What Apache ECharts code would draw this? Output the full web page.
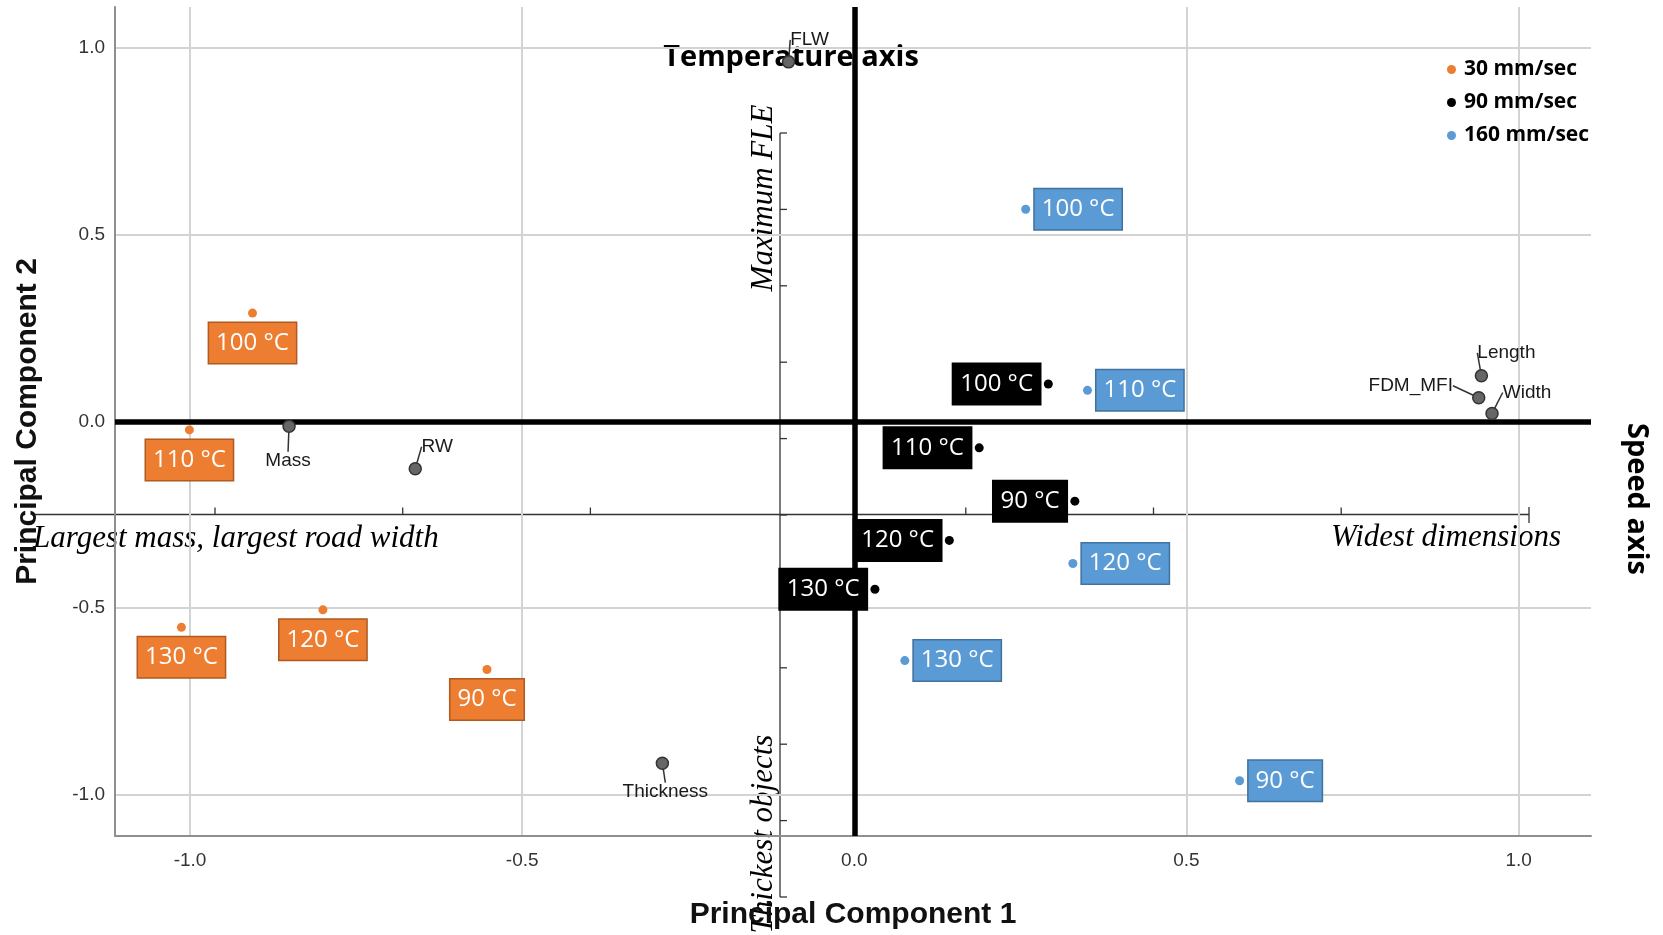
<!DOCTYPE html>
<html>
<head>
<meta charset="utf-8">
<script src="https://cdn.jsdelivr.net/npm/echarts@6/dist/echarts.min.js"></script>
<style>
  html, body { margin: 0; padding: 0; background: #ffffff; }
  #chart { width: 1663px; height: 935px; }
</style>
</head>
<body>
<div id="chart"></div>
<script>
// ---- data -------------------------------------------------------------
const temperatureLabels = ['90 °C', '100 °C', '110 °C', '120 °C', '130 °C'];
const speedNames = ['30 mm/sec', '90 mm/sec', '160 mm/sec'];

// scores on PC1 / PC2 for each printing speed, ordered like temperatureLabels
const pc1Speed30 = [-0.553, -0.906, -1.001, -0.800, -1.013];
const pc2Speed30 = [-0.665, 0.290, -0.023, -0.505, -0.552];
const pc1Speed90 = [0.332, 0.292, 0.188, 0.143, 0.031];
const pc2Speed90 = [-0.214, 0.100, -0.071, -0.319, -0.450];
const pc1Speed160 = [0.580, 0.258, 0.351, 0.329, 0.076];
const pc2Speed160 = [-0.963, 0.568, 0.083, -0.381, -0.641];

// variable loadings
const loadingNames = ['FLW', 'Mass', 'RW', 'Thickness', 'Length', 'FDM_MFI', 'Width'];
const loadingPC1 = [-0.099, -0.851, -0.661, -0.289, 0.944, 0.940, 0.960];
const loadingPC2 = [0.963, -0.013, -0.127, -0.916, 0.122, 0.063, 0.021];

const axisTickValues = [-1.0, -0.5, 0.0, 0.5, 1.0];

// ---- layout / style ---------------------------------------------------
const loadingLabelOffsets = [[21, -22], [-1, 35], [22, -22], [3, 29], [25, -23], [-68, -12], [35, -21]];
const calibriLike = '"Open Sans", Lato, sans-serif';
const arialLike = '"Liberation Sans", Arial, sans-serif';
const serifItalic = '"Liberation Serif", "DejaVu Serif", serif';

const speedStyles = [
  { color: '#ED7D31', border: '#AE5A21', position: 'bottom', distance: 5.5 },
  { color: '#000000', border: '#000000', position: 'left', distance: 3.8 },
  { color: '#5B9BD5', border: '#41719C', position: 'right', distance: 4.5 }
];

function speedSeries(name, xs, ys, st) {
  return {
    type: 'scatter',
    name: name,
    z: 10,
    symbol: 'circle',
    symbolSize: 9,
    itemStyle: { color: st.color, opacity: 1 },
    data: xs.map((x, i) => ({ value: [x, ys[i]], name: temperatureLabels[i] })),
    label: {
      show: true,
      formatter: '{b}',
      position: st.position,
      distance: st.distance,
      color: '#ffffff',
      fontFamily: calibriLike,
      fontSize: 24,
      lineHeight: 28,
      backgroundColor: st.color,
      borderColor: st.border,
      borderWidth: 1.5,
      padding: [6, 7, 6, 7]
    },
    emphasis: { disabled: true }
  };
}

function valueAxis(extra) {
  return Object.assign({
    type: 'value',
    axisLine: { show: true, onZero: false, lineStyle: { color: '#8f8f8f', width: 2 } },
    axisTick: { show: false, customValues: axisTickValues },
    axisLabel: {
      customValues: axisTickValues,
      formatter: v => v.toFixed(1),
      color: '#333333',
      fontFamily: arialLike,
      fontSize: 19,
      margin: 15
    },
    splitLine: { show: true, lineStyle: { color: '#d3d3d3', width: 2 } },
    nameLocation: 'middle',
    nameTextStyle: { fontFamily: arialLike, fontWeight: 'bold', fontSize: 30, color: '#111111' }
  }, extra);
}

// ---- annotation guides drawn over the plot -----------------------------
const guideStroke = { stroke: '#333333', lineWidth: 1.3 };
const guides = [];
guides.push({ type: 'line', shape: { x1: 780, y1: 133, x2: 780, y2: 897 }, style: guideStroke });
for (let k = 0; k <= 10; k++) {
  const y = 133 + k * 76.4;
  guides.push({ type: 'line', shape: { x1: 780, y1: y, x2: 787, y2: y }, style: guideStroke });
}
guides.push({ type: 'line', shape: { x1: 35, y1: 514.5, x2: 1529, y2: 514.5 }, style: guideStroke });
for (let k = 0; k < 7; k++) {
  const x = 215 + k * 187.7;
  if (Math.abs(x - 780) < 5) continue;
  guides.push({ type: 'line', shape: { x1: x, y1: 507.5, x2: x, y2: 514.5 }, style: guideStroke });
}
guides.push({ type: 'line', shape: { x1: 1529, y1: 507, x2: 1529, y2: 523 }, style: guideStroke });

function textEl(x, y, text, font, align, rotation) {
  return {
    type: 'text', x: x, y: y, rotation: rotation || 0,
    style: {
      text: text, font: font, fill: '#000000',
      align: align, verticalAlign: 'middle',
      textAlign: align, textVerticalAlign: 'middle'
    }
  };
}
guides.push(textEl(791, 58, 'Temperature axis', 'bold 29px ' + calibriLike, 'center'));
guides.push(textEl(1636, 499, 'Speed axis', 'bold 29px ' + calibriLike, 'center', -Math.PI / 2));
guides.push(textEl(33, 539, 'Largest mass, largest road width', 'italic 31px ' + serifItalic, 'left'));
guides.push(textEl(1561, 538, 'Widest dimensions', 'italic 31px ' + serifItalic, 'right'));
guides.push(textEl(764, 198, 'Maximum FLE', 'italic 31px ' + serifItalic, 'center', Math.PI / 2));
guides.push(textEl(764, 834, 'Thickest objects', 'italic 31px ' + serifItalic, 'center', Math.PI / 2));

// ---- chart --------------------------------------------------------------
const chart = echarts.init(document.getElementById('chart'), null, { renderer: 'canvas' });
chart.setOption({
  animation: false,
  backgroundColor: '#ffffff',
  grid: { left: 115, right: 72, top: 7, bottom: 98, containLabel: false },
  xAxis: valueAxis({ min: -1.113, max: 1.109, name: 'Principal Component 1', nameGap: 64 }),
  yAxis: valueAxis({ min: -1.111, max: 1.110, name: 'Principal Component 2', nameGap: 72,
    axisLabel: {
      customValues: axisTickValues, formatter: v => v.toFixed(1),
      color: '#333333', fontFamily: arialLike, fontSize: 19, margin: 10
    } }),
  legend: {
    data: speedNames,
    orient: 'vertical',
    left: 1442,
    top: 52,
    icon: 'circle',
    itemWidth: 9,
    itemHeight: 9,
    itemGap: 8,
    textStyle: { fontFamily: calibriLike, fontWeight: 'bold', fontSize: 21, lineHeight: 25, color: '#000000', padding: [0, 0, 0, 3] }
  },
  graphic: { elements: [{ type: 'group', z: 20, children: guides }] },
  series: [
    {
      // origin lines of the component plane
      type: 'scatter',
      name: 'origin',
      z: 3,
      data: [],
      markLine: {
        silent: true,
        symbol: 'none',
        label: { show: false },
        lineStyle: { type: 'solid', color: '#000000', width: 5.5, opacity: 1 },
        data: [{ xAxis: 0 }, { yAxis: 0 }]
      }
    },
    speedSeries(speedNames[0], pc1Speed30, pc2Speed30, speedStyles[0]),
    speedSeries(speedNames[1], pc1Speed90, pc2Speed90, speedStyles[1]),
    speedSeries(speedNames[2], pc1Speed160, pc2Speed160, speedStyles[2]),
    {
      type: 'scatter',
      name: 'Loadings',
      z: 10,
      symbol: 'circle',
      symbolSize: 12,
      itemStyle: { color: '#666666', borderColor: '#333333', borderWidth: 1.5, opacity: 1 },
      data: loadingPC1.map((x, i) => ({ value: [x, loadingPC2[i]], name: loadingNames[i] })),
      label: {
        show: true,
        formatter: '{b}',
        position: 'inside',
        color: '#1a1a1a',
        fontFamily: arialLike,
        fontSize: 19
      },
      labelLayout: params => ({ dx: loadingLabelOffsets[params.dataIndex][0], dy: loadingLabelOffsets[params.dataIndex][1] }),
      labelLine: { show: true, lineStyle: { color: '#333333', width: 1.5 } },
      emphasis: { disabled: true }
    }
  ]
});
</script>
</body>
</html>
